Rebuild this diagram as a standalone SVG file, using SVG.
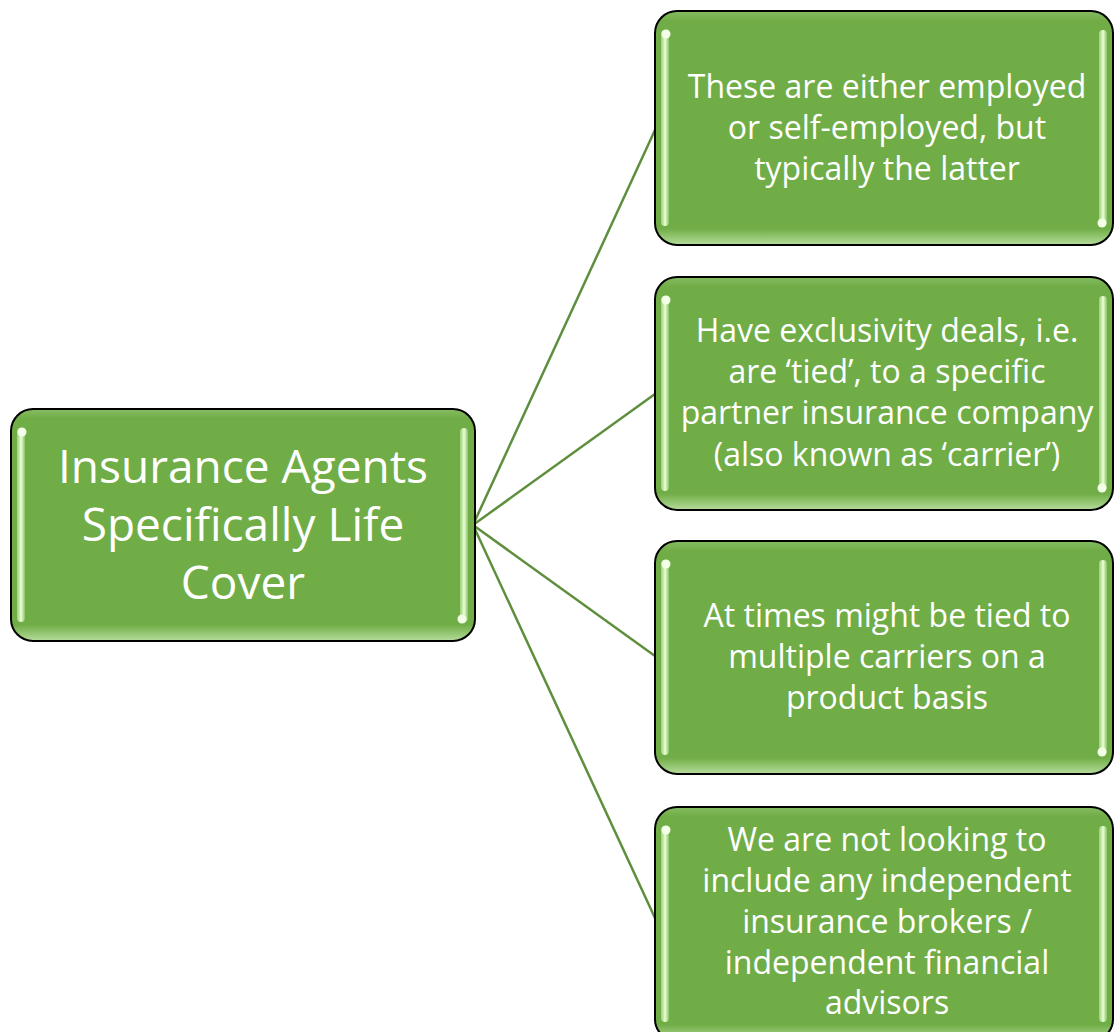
<svg xmlns="http://www.w3.org/2000/svg" width="1114" height="1032" viewBox="0 0 1114 1032">
  <defs>
    <linearGradient id="boxFill" x1="0" y1="0" x2="0" y2="1">
      <stop offset="0" stop-color="#86bd62"/>
      <stop offset="0.04" stop-color="#70ad47"/>
      <stop offset="0.93" stop-color="#70ad47"/>
      <stop offset="0.975" stop-color="#9ccc7c"/>
      <stop offset="1" stop-color="#b9dca0"/>
    </linearGradient>
    <linearGradient id="shine" x1="0" y1="0" x2="1" y2="0">
      <stop offset="0" stop-color="#9fcf80"/>
      <stop offset="0.3" stop-color="#c4eaa6"/>
      <stop offset="0.5" stop-color="#eeffdc"/>
      <stop offset="0.7" stop-color="#c4eaa6"/>
      <stop offset="1" stop-color="#8cc26a"/>
    </linearGradient>
    <filter id="soft" x="-50%" y="-10%" width="200%" height="120%">
      <feGaussianBlur stdDeviation="0.7"/>
    </filter>
  </defs>
  <style>
    .box { fill: url(#boxFill); stroke: #000; stroke-width: 2; }
    .shine { fill: url(#shine); filter: url(#soft); }
    .dot { fill: #f4ffe8; filter: url(#soft); }
    .lbl { font-family: "Open Sans", "Liberation Sans", sans-serif; fill: #fff; text-anchor: middle; }
    .small { font-size: 32px; }
    .big { font-size: 46px; }
    .link { stroke: #5f8f3e; stroke-width: 2.5; fill: none; }
  </style>

  <rect width="1114" height="1032" fill="#fff"/>

  <g id="connectors">
    <line class="link" x1="473" y1="525" x2="655" y2="130"/>
    <line class="link" x1="473" y1="525" x2="655" y2="394"/>
    <line class="link" x1="473" y1="525" x2="655" y2="656"/>
    <line class="link" x1="473" y1="525" x2="655" y2="918"/>
  </g>

  <g id="root">
    <rect class="box" x="11" y="409" width="464" height="232" rx="22"/>
    <rect class="shine" x="17" y="428" width="8" height="194" rx="4"/>
    <rect class="shine" x="460" y="428" width="8" height="194" rx="4"/>
    <circle class="dot" cx="22" cy="432" r="4.5"/>
    <circle class="dot" cx="462" cy="619" r="4.5"/>
    <text class="lbl big" x="243" y="483">Insurance Agents</text>
    <text class="lbl big" x="243" y="541">Specifically Life</text>
    <text class="lbl big" x="243" y="599">Cover</text>
  </g>

  <g id="node-1">
    <rect class="box" x="655" y="11" width="458" height="234" rx="22"/>
    <rect class="shine" x="661" y="30" width="8" height="196" rx="4"/>
    <rect class="shine" x="1099" y="30" width="8" height="196" rx="4"/>
    <circle class="dot" cx="666" cy="34" r="4.5"/>
    <circle class="dot" cx="1102" cy="223" r="4.5"/>
    <text class="lbl small" x="887" y="98">These are either employed</text>
    <text class="lbl small" x="887" y="139">or self-employed, but</text>
    <text class="lbl small" x="887" y="180">typically the latter</text>
  </g>

  <g id="node-2">
    <rect class="box" x="655" y="277" width="458" height="233" rx="22"/>
    <rect class="shine" x="661" y="296" width="8" height="195" rx="4"/>
    <rect class="shine" x="1099" y="296" width="8" height="195" rx="4"/>
    <circle class="dot" cx="666" cy="300" r="4.5"/>
    <circle class="dot" cx="1102" cy="488" r="4.5"/>
    <text class="lbl small" x="887" y="342">Have exclusivity deals, i.e.</text>
    <text class="lbl small" x="887" y="383">are ‘tied’, to a specific</text>
    <text class="lbl small" x="887" y="424">partner insurance company</text>
    <text class="lbl small" x="887" y="466">(also known as ‘carrier’)</text>
  </g>

  <g id="node-3">
    <rect class="box" x="655" y="541" width="458" height="233" rx="22"/>
    <rect class="shine" x="661" y="560" width="8" height="195" rx="4"/>
    <rect class="shine" x="1099" y="560" width="8" height="195" rx="4"/>
    <circle class="dot" cx="666" cy="564" r="4.5"/>
    <circle class="dot" cx="1102" cy="752" r="4.5"/>
    <text class="lbl small" x="887" y="627">At times might be tied to</text>
    <text class="lbl small" x="887" y="668">multiple carriers on a</text>
    <text class="lbl small" x="887" y="709">product basis</text>
  </g>

  <g id="node-4">
    <rect class="box" x="655" y="807" width="458" height="234" rx="22"/>
    <rect class="shine" x="661" y="826" width="8" height="196" rx="4"/>
    <rect class="shine" x="1099" y="826" width="8" height="196" rx="4"/>
    <circle class="dot" cx="666" cy="830" r="4.5"/>
    <text class="lbl small" x="887" y="851">We are not looking to</text>
    <text class="lbl small" x="887" y="892">include any independent</text>
    <text class="lbl small" x="887" y="933">insurance brokers /</text>
    <text class="lbl small" x="887" y="974">independent financial</text>
    <text class="lbl small" x="887" y="1014">advisors</text>
  </g>
</svg>
